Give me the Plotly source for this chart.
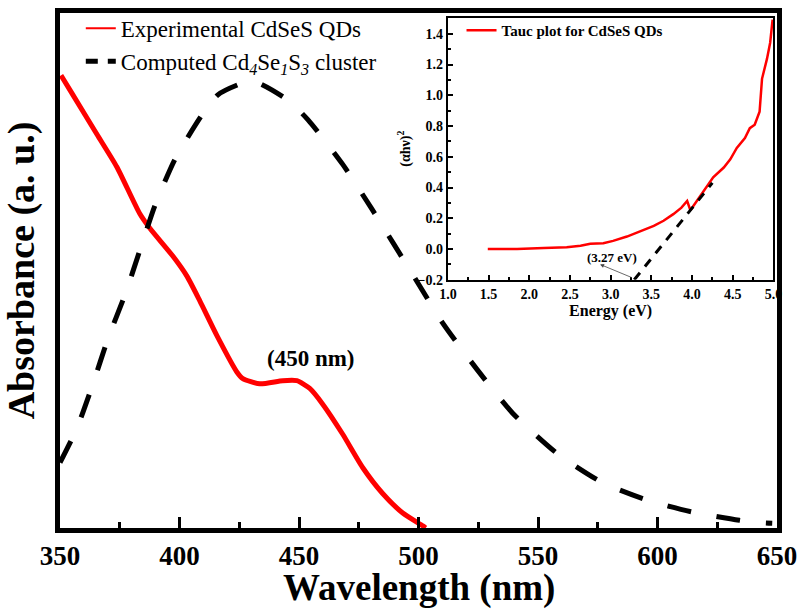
import plotly.graph_objects as go

# ---- Main panel data ----
exp_wl = [350.4, 355.4, 365.5, 373.8, 383.4, 387.6, 397.2, 403.1, 408.5, 415.6, 424.0,
          426.5, 433.6, 443.2, 449.1, 454.5, 460.0, 468.3, 476.7, 485.0, 493.4, 501.8, 503.0]
exp_abs = [0.879, 0.841, 0.764, 0.701, 0.610, 0.582, 0.528, 0.489, 0.441, 0.374, 0.303,
           0.290, 0.280, 0.286, 0.286, 0.271, 0.240, 0.182, 0.117, 0.067, 0.029, 0.004, 0.0]

calc_wl = [350.0, 357.1, 363.8, 370.0, 377.2, 383.4, 389.7, 398.1, 409.4, 416.0, 430.3,
           445.3, 453.7, 468.3, 480.4, 498.4, 510.0, 524.3, 539.4, 558.2, 577.0, 595.8,
           614.6, 634.3, 643.5, 648.0]
calc_abs = [0.127, 0.194, 0.280, 0.367, 0.453, 0.539, 0.626, 0.716, 0.802, 0.841, 0.868,
            0.831, 0.793, 0.706, 0.620, 0.486, 0.399, 0.309, 0.223, 0.144, 0.088, 0.054,
            0.031, 0.015, 0.010, 0.009]

# ---- Inset (Tauc plot) data ----
tauc_e = [1.49, 1.85, 2.18, 2.46, 2.63, 2.75, 2.91, 3.03, 3.20, 3.36, 3.53, 3.65, 3.77,
          3.87, 3.94, 3.98, 4.04, 4.14, 4.26, 4.39, 4.47, 4.55, 4.65, 4.71, 4.77, 4.83,
          4.86, 4.88, 4.92, 4.96, 4.99]
tauc_y = [0.0, 0.0, 0.006, 0.011, 0.021, 0.034, 0.038, 0.053, 0.081, 0.113, 0.150, 0.184,
          0.227, 0.269, 0.312, 0.252, 0.299, 0.380, 0.466, 0.530, 0.583, 0.658, 0.722,
          0.786, 0.808, 0.893, 1.107, 1.150, 1.235, 1.342, 1.492]
fit_e = [3.29, 4.25]
fit_y = [-0.2, 0.43]

gap_ev = 3.27
x_ticks_main = [350, 400, 450, 500, 550, 600, 650]

SERIF = "Liberation Serif"

fig = go.Figure()

# Main curves
fig.add_trace(go.Scatter(x=exp_wl, y=exp_abs, mode="lines",
                         line=dict(color="#ff0000", width=5, shape="spline", smoothing=0.6),
                         showlegend=False, xaxis="x", yaxis="y"))
fig.add_trace(go.Scatter(x=calc_wl, y=calc_abs, mode="lines",
                         line=dict(color="black", width=5, dash="24px,26px",
                                   shape="spline", smoothing=0.6),
                         showlegend=False, xaxis="x", yaxis="y"))
# legend entries for main panel
fig.add_trace(go.Scatter(x=[None], y=[None], mode="lines",
                         line=dict(color="#ff0000", width=2),
                         name="Experimental CdSeS QDs", legend="legend",
                         legendgroup="a", xaxis="x", yaxis="y"))
fig.add_trace(go.Scatter(x=[None], y=[None], mode="lines",
                         line=dict(color="black", width=5, dash="12px,10px"),
                         name="Computed Cd<sub><i>4</i></sub>Se<sub><i>1</i></sub>S<sub><i>3</i></sub> cluster",
                         legend="legend", legendgroup="b", xaxis="x", yaxis="y"))

# Inset curves
fig.add_trace(go.Scatter(x=tauc_e, y=tauc_y, mode="lines",
                         line=dict(color="#ff0000", width=2.5),
                         name="Tauc plot for CdSeS QDs", legend="legend2",
                         xaxis="x2", yaxis="y2"))
fig.add_trace(go.Scatter(x=fit_e, y=fit_y, mode="lines",
                         line=dict(color="black", width=3, dash="9px,8px"),
                         showlegend=False, xaxis="x2", yaxis="y2"))

fig.update_layout(
    width=800, height=612,
    margin=dict(l=60, r=23, t=7, b=84),
    plot_bgcolor="white", paper_bgcolor="white",
    font=dict(family=SERIF, color="black"),
    xaxis=dict(domain=[0, 1], range=[350, 650], tickvals=x_ticks_main, automargin=False,
               ticks="inside", ticklen=11, tickwidth=3, tickcolor="black",
               minor=dict(dtick=25, ticks="inside", ticklen=6, tickwidth=3, tickcolor="black"),
               showline=True, linewidth=5, linecolor="black", mirror=True,
               showgrid=False, zeroline=False,
               tickfont=dict(family=SERIF, size=27, weight="bold"),
               ticklabelstandoff=0),
    yaxis=dict(domain=[0, 1], range=[0, 1], showticklabels=False, ticks="", automargin=False,
               showline=True, linewidth=5, linecolor="black", mirror=True,
               showgrid=False, zeroline=False,
               title=dict(text="Absorbance (a. u.)", font=dict(family=SERIF, size=38, weight="bold"),
                          standoff=14)),
    xaxis2=dict(domain=[0.541, 0.995], anchor="y2", range=[1.0, 5.0], dtick=0.5,
                automargin=False,
                tickformat=".1f", ticks="inside", ticklen=5, tickwidth=2, tickcolor="black",
                minor=dict(dtick=0.25, ticks="inside", ticklen=3, tickwidth=2, tickcolor="black"),
                showline=True, linewidth=2, linecolor="black", mirror=True,
                showgrid=False, zeroline=False,
                tickfont=dict(family=SERIF, size=14, weight="bold"),
                ticklabelstandoff=0,
                title=dict(text="Energy (eV)", font=dict(family=SERIF, size=16, weight="bold"),
                           standoff=0)),
    yaxis2=dict(domain=[0.482, 0.991], anchor="x2", range=[-0.2, 1.505], dtick=0.2,
                automargin=False,
                tick0=0, tickformat=".1f", ticks="inside", ticklen=5, tickwidth=2,
                tickcolor="black",
                minor=dict(dtick=0.1, ticks="inside", ticklen=3, tickwidth=2, tickcolor="black"),
                showline=True, linewidth=2, linecolor="black", mirror=True,
                showgrid=False, zeroline=False,
                tickfont=dict(family=SERIF, size=14, weight="bold"),
                title=dict(text="(αhν)<sup>2</sup>", font=dict(family=SERIF, size=14, weight="bold"),
                           standoff=4)),
    legend=dict(x=0.029, y=1.012, xanchor="left", yanchor="top", xref="paper", yref="paper",
                bgcolor="rgba(0,0,0,0)", font=dict(family=SERIF, size=23),
                tracegroupgap=0, itemwidth=30),
    legend2=dict(x=0.560, y=0.998, xanchor="left", yanchor="top",
                 bgcolor="rgba(0,0,0,0)", font=dict(family=SERIF, size=15, weight="bold")),
)

# x-axis title placed as a paper annotation so it can sit close to the tick labels
fig.add_annotation(x=0.5, y=-0.117, xref="paper", yref="paper", text="Wavelength (nm)",
                   showarrow=False, yanchor="middle",
                   font=dict(family=SERIF, size=37, weight="bold"))
fig.add_annotation(x=455, y=0.33, xref="x", yref="y", text="(450 nm)", showarrow=False,
                   font=dict(family=SERIF, size=23, weight="bold"))
fig.add_annotation(x=3.02, y=-0.058, xref="x2", yref="y2", text=f"({gap_ev} eV)",
                   showarrow=False, font=dict(family=SERIF, size=13, weight="bold"))
fig.add_annotation(x=2.87, y=-0.10, xref="x2", yref="y2", ax=3.28, ay=-0.19,
                   axref="x2", ayref="y2", text="", showarrow=True, arrowhead=2,
                   arrowsize=1, arrowwidth=0.8, arrowcolor="#444")

fig.write_html("out.html", config={"displayModeBar": False},
               post_script="document.body.style.margin='0px';")
